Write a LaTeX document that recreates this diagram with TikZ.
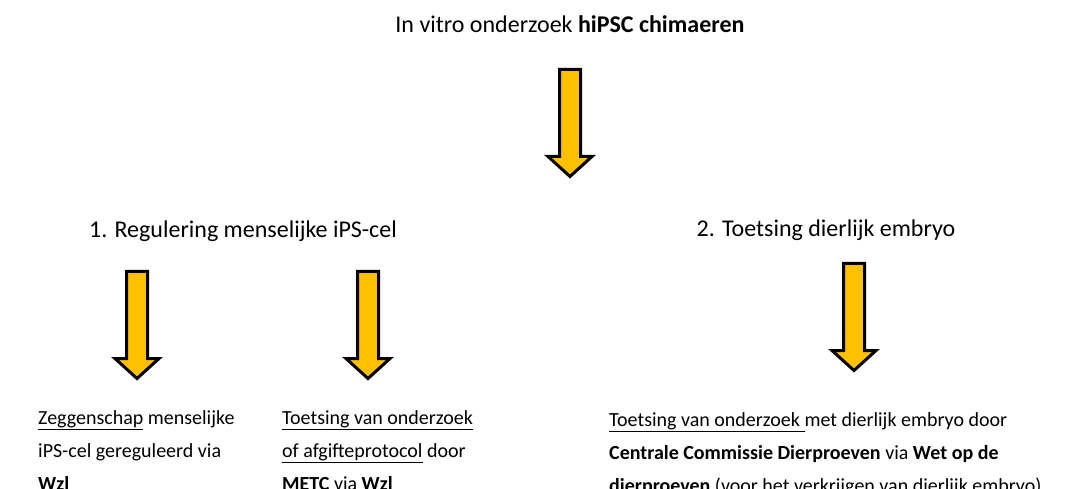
\documentclass[tikz,border=0pt]{standalone}
\usepackage{fontspec}
\setmainfont{Carlito}
\definecolor{arrowgold}{HTML}{FFC000}
\begin{document}
\begin{tikzpicture}[x=1pt,y=-1pt,
		heading/.style={inner sep=0pt,anchor=base,font=\fontsize{24}{28}\selectfont},
		body/.style={inner sep=0pt,anchor=base west,align=left,font=\fontsize{20}{33}\selectfont},
		downarrow/.pic={
				\draw[line width=3pt,line join=miter,fill=arrowgold]
				(-10.5,0) -- (10.5,0) -- (10.5,87) -- (22,87) -- (0,107)
				-- (-22,87) -- (-10.5,87) -- cycle;
			}
	]
	\useasboundingbox (0,0) rectangle (1074,489);
	\node[heading] (invitro) at (570,33) {In vitro onderzoek \textbf{hiPSC chimaeren}};
	\pic at (570,69.5) {downarrow};
	\node[heading] (regulering) at (243,238) {1. Regulering menselijke iPS-cel};
	\node[heading] (toetsing) at (826,237) {2. Toetsing dierlijk embryo};
	\pic at (137,271.5) {downarrow};
	\pic at (368,271.5) {downarrow};
	\pic at (854,263.5) {downarrow};
	\node[body] (zeggenschap) at (38,490) {\underline{Zeggenschap} menselijke\\iPS-cel gereguleerd via\\\textbf{Wzl}};
	\node[body] (metc) at (282,490) {\underline{Toetsing van onderzoek}\\\underline{of afgifteprotocol} door\\\textbf{METC} via \textbf{Wzl}};
	\node[body] (ccd) at (609,492) {\underline{Toetsing van onderzoek\ }met dierlijk embryo door\\\textbf{Centrale Commissie Dierproeven} via \textbf{Wet op de}\\\textbf{dierproeven} (voor het verkrijgen van dierlijk embryo)};
\end{tikzpicture}
\end{document}
